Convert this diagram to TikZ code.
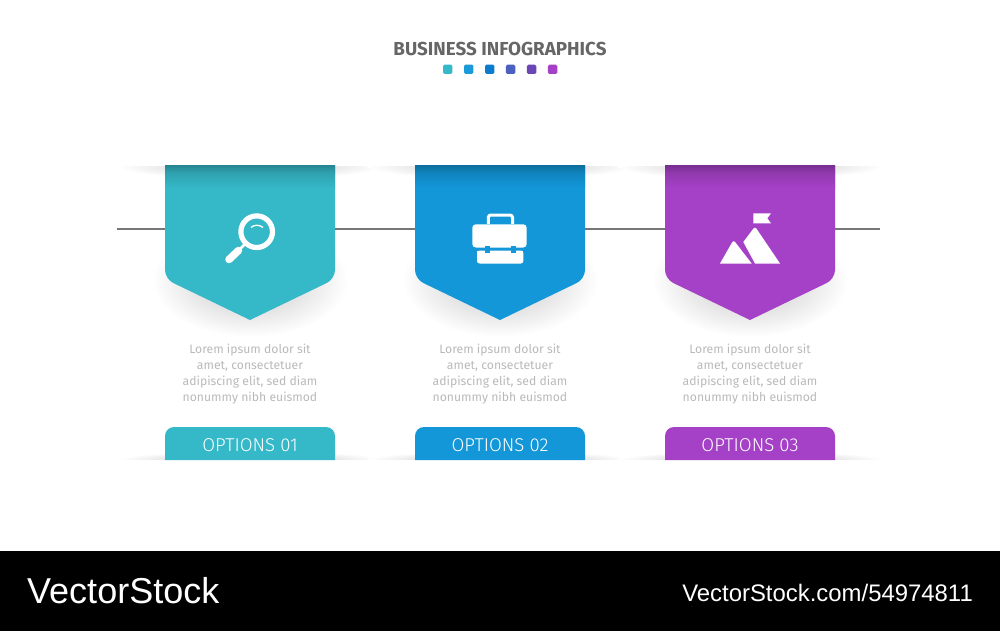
\documentclass[tikz,border=0pt]{standalone}
\usepackage{fontspec}
\setmainfont{Fira Sans}
\newfontfamily\markfont{Liberation Sans}
\newfontfamily\lightfont{Fira Sans Light}
\definecolor{tealc}{HTML}{35B8C8}
\definecolor{bluec}{HTML}{1397D9}
\definecolor{purplec}{HTML}{A541C7}
\definecolor{railc}{HTML}{777777}
\definecolor{bodyc}{HTML}{B9B9B9}
\definecolor{titlec}{HTML}{666666}
\tikzset{
  bodytext/.style={text=bodyc, align=center, font=\fontsize{12.2}{16}\selectfont},
  optiontext/.style={text=white, font=\lightfont\fontsize{18.6}{20}\selectfont},
  railline/.style={draw=railc, line width=1.2pt},
}
% banner with its shadows: x centre, colour, name
\newcommand {\bannershadow}[1] {
  \shade[inner color=black!24, outer color=white] (#1,280) ellipse [x radius=98pt, y radius=57pt];
  \shade[inner color=black!24, outer color=white] (#1,166) ellipse [x radius=133pt, y radius=13pt];
  \shade[inner color=black!26, outer color=white] (#1,460) ellipse [x radius=133pt, y radius=9pt];}
\newcommand {\banner}[3] {
  \fill[#2] (#1-85,166) -- (#1+85,166) [rounded corners=9pt] -- (#1+85,279) [sharp corners] -- (#1,320) [rounded corners=9pt] -- (#1-85,279) [sharp corners] -- cycle;
  \shade[top color=#2!88!black, bottom color=#2] (#1-85,173) rectangle (#1+85,188);
  \shade[top color=#2!74!black, bottom color=#2!88!black] (#1-85,166) rectangle (#1+85,173);
  \coordinate (#3w) at (#1-85,229);
  \coordinate (#3e) at (#1+85,229);}
\newcommand {\optiontab}[4] {
  \fill[#2] (#1-85,460) [rounded corners=9pt] -- (#1-85,427) -- (#1+85,427) [sharp corners] -- (#1+85,460) -- cycle;
  \node[optiontext] (#3) at (#1,445) {OPTIONS #4};}
\newcommand {\dotmark}[2] {\fill[color=#2, rounded corners=1.5pt] (#1-4.7,64.6) rectangle (#1+4.7,74);}
\newcommand {\lorem}[2] {\node[bodytext] (#2) at (#1,374) {Lorem ipsum dolor sit\\amet, consectetuer\\adipiscing elit, sed diam\\nonummy nibh euismod};}
\definecolor{dotb}{HTML}{1B9AD9}
\definecolor{dotc}{HTML}{0A7BCD}
\definecolor{dotd}{HTML}{4B61C0}
\definecolor{dote}{HTML}{6B46B5}
\begin{document}
\begin{tikzpicture}[x=1pt, y=-1pt]
  \useasboundingbox (0,0) rectangle (1000,631);
  \bannershadow{250}
  \bannershadow{500}
  \bannershadow{750}
  \fill[white] (0,0) rectangle (1000,166);
  \fill[white] (0,460) rectangle (1000,551);
  \fill[black] (0,551) rectangle (1000,631);

  \node[text=titlec, font=\fontsize{18.8}{20}\selectfont\bfseries] (title) at (500,49) {BUSINESS INFOGRAPHICS};
  \dotmark{447.7}{tealc}
  \dotmark{468.7}{dotb}
  \dotmark{489.7}{dotc}
  \dotmark{510.6}{dotd}
  \dotmark{531.6}{dote}
  \dotmark{552.6}{purplec}

  \banner{250}{tealc}{search}
  \banner{500}{bluec}{case}
  \banner{750}{purplec}{peak}
  \coordinate (railstart) at (117,229);
  \coordinate (railend) at (880,229);
  \draw[railline] (railstart) -- (searchw);
  \draw[railline] (searche) -- (casew);
  \draw[railline] (casee) -- (peakw);
  \draw[railline] (peake) -- (railend);

  % magnifier
  \draw[white, line width=5.2pt] (256.7,231.7) circle [radius=15.8pt];
  \draw[white, line width=1.3pt] (251,227.5) .. controls (254,224.5) and (259.5,224.5) .. (263,227.5);
  \draw[white, line width=2.8pt] (246,243) -- (240,249);
  \draw[white, line width=7.5pt, line cap=round] (238.5,250.5) -- (229,259.5);

  % briefcase
  \fill[white, rounded corners=3.5pt] (472.3,224.3) rectangle (526.7,247.5);
  \fill[white, rounded corners=2.5pt] (477,250.5) rectangle (523.3,263.5);
  \fill[white] (477,250.5) rectangle (523.3,255);
  \draw[white, line width=3pt, rounded corners=2.5pt] (488.3,224) -- (488.3,215) -- (512.5,215) -- (512.5,224);
  \fill[bluec] (485,245.7) rectangle (490,253.3);
  \fill[bluec] (510.7,245.7) rectangle (515.7,253.3);

  % mountain and flag
  \fill[white] (720,263.5) [rounded corners=2.5pt] -- (733.5,240) [sharp corners] -- (751.7,263.5) -- cycle;
  \fill[white] (755,263.5) -- (743.3,242) [rounded corners=2.5pt] -- (755,226.5) [sharp corners] -- (780,263.5) -- cycle;
  \fill[white] (753.3,213.3) -- (771,213.3) -- (767.3,218.3) -- (771,223.3) -- (753.3,223.3) -- cycle;

  \lorem{250}{textA}
  \lorem{500}{textB}
  \lorem{750}{textC}
  \optiontab{250}{tealc}{optA}{01}
  \optiontab{500}{bluec}{optB}{02}
  \optiontab{750}{purplec}{optC}{03}

  \node[text=white, font=\markfont\fontsize{36}{38}\selectfont, anchor=west, inner sep=0pt] (brand) at (27,591) {VectorStock};
  \node[text=white, font=\markfont\fontsize{23.9}{26}\selectfont, anchor=east, inner sep=0pt] (stockid) at (973,593) {VectorStock.com/54974811};
\end{tikzpicture}
\end{document}
